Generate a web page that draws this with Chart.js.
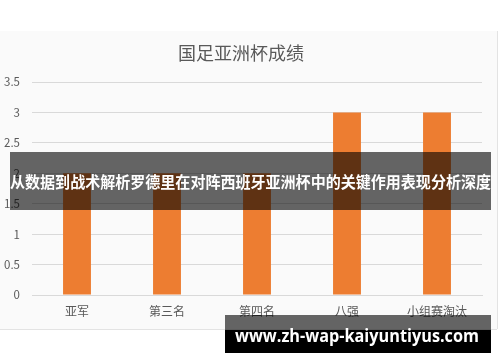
<!doctype html>
<html>
    <head>
        <meta charset="utf-8">
        <title>国足亚洲杯成绩</title>
        <style>
            html, body { margin: 0; padding: 0; background: #ffffff; }
            #wrap { width: 500px; height: 362px; }
        </style>
    </head>

    <body>
        <div id="wrap"><canvas id="chart" width="500" height="362"></canvas></div>

        <script src="https://cdn.jsdelivr.net/npm/chart.js@4.4.1/dist/chart.umd.min.js"></script>

        <script>
        // data
        var categories = ["亚军", "第三名", "第四名", "八强", "小组赛淘汰"];
        var counts = [2, 2, 2, 3, 3];
        var yTicks = [0, 0.5, 1, 1.5, 2, 2.5, 3, 3.5];

        var chartTitle = "国足亚洲杯成绩";
        var bannerText = "从数据到战术解析罗德里在对阵西班牙亚洲杯中的关键作用表现分析深度";
        var siteText = "www.zh-wap-kaiyuntiyus.com";

        var cjk = "'Noto Sans CJK SC', 'Noto Sans', sans-serif";

        // light panel behind the chart
        var panelBg = {
            id: "panelBg",
            beforeDraw: function(chart) {
                var ctx = chart.ctx;
                ctx.save();
                ctx.fillStyle = "#ffffff";
                ctx.fillRect(0, 0, chart.width, chart.height);
                ctx.fillStyle = "#fafafa";
                ctx.fillRect(0, 31, 497, 298);
                ctx.strokeStyle = "#e3e3e3";
                ctx.lineWidth = 1;
                ctx.beginPath();
                ctx.moveTo(0, 329.5);
                ctx.lineTo(497, 329.5);
                ctx.moveTo(497.5, 31);
                ctx.lineTo(497.5, 329);
                ctx.stroke();
                ctx.restore();
            }
        };

        // the dark caption strip and the site stamp on top
        var overlays = {
            id: "overlays",
            afterDraw: function(chart) {
                var ctx = chart.ctx;
                ctx.save();
                ctx.fillStyle = "rgba(0,0,0,0.6)";
                ctx.fillRect(10, 152, 481, 58);
                ctx.fillStyle = "#ffffff";
                ctx.font = "bold 15.5px " + cjk;
                ctx.textAlign = "center";
                ctx.textBaseline = "middle";
                ctx.fillText(bannerText, 250.5, 182, 481);

                ctx.fillStyle = "rgba(0,0,0,0.6)";
                ctx.fillRect(225, 315, 266, 15);
                ctx.fillStyle = "#000000";
                ctx.fillRect(225, 330, 266, 23);
                ctx.fillStyle = "#ffffff";
                ctx.font = "bold 17px 'Open Sans', 'DejaVu Sans', sans-serif";
                ctx.fillText(siteText, 357, 337, 244);
                ctx.restore();
            }
        };

        new Chart(document.getElementById("chart"), {
            type: "bar",
            data: {
                labels: categories,
                datasets: [{
                    data: counts,
                    backgroundColor: "#ED7D31",
                    borderWidth: 0,
                    categoryPercentage: 1,
                    barPercentage: 0.31
                }]
            },
            options: {
                responsive: false,
                animation: false,
                devicePixelRatio: 1,
                layout: { padding: { top: 0, left: 0, right: 18, bottom: 0 } },
                plugins: {
                    legend: { display: false },
                    tooltip: { enabled: false },
                    title: {
                        display: true,
                        text: chartTitle,
                        color: "#595959",
                        font: { family: cjk, size: 18, weight: "normal", lineHeight: 1.2 },
                        padding: { top: 42, bottom: 18.4 }
                    }
                },
                scales: {
                    x: {
                        grid: { display: false, drawTicks: false },
                        border: { display: true, color: "#d9d9d9", width: 1 },
                        ticks: {
                            color: "#595959",
                            font: { family: cjk, size: 12 },
                            padding: 9,
                            maxRotation: 0
                        },
                        afterFit: function(scale) { scale.height = 67; }
                    },
                    y: {
                        min: 0,
                        max: 3.5,
                        afterBuildTicks: function(scale) {
                            scale.ticks = yTicks.map(function(v) { return { value: v }; });
                        },
                        grid: { color: "#d9d9d9", drawTicks: false },
                        border: { display: false },
                        ticks: {
                            color: "#595959",
                            font: { family: cjk, size: 11.5 },
                            padding: 12,
                            callback: function(v) { return String(v); }
                        },
                        afterFit: function(scale) { scale.width = 32; }
                    }
                }
            },
            plugins: [panelBg, overlays]
        });
        </script>
    </body>

</html>
